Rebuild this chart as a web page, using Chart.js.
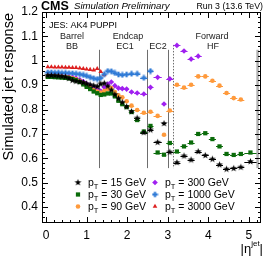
<!DOCTYPE html>
<html>
<head>
<meta charset="utf-8">
<script src="https://cdn.jsdelivr.net/npm/chart.js@4.4.1/dist/chart.umd.min.js"></script>
<style>
  html, body { margin: 0; padding: 0; background: #fff; }
  #chart { display: block; }
</style>
</head>
<body>
<canvas id="chart" width="265" height="257"></canvas>
<script>
// eta bin edges (last bin ends at 5.191)
const etaEdges = [0, 0.087, 0.174, 0.261, 0.348, 0.435, 0.522, 0.609, 0.696, 0.783, 0.879,
  0.957, 1.044, 1.131, 1.218, 1.305, 1.392, 1.479, 1.566, 1.653, 1.740, 1.830, 1.930,
  2.043, 2.172, 2.322, 2.500, 2.650, 2.853, 2.964, 3.139, 3.314, 3.489, 3.664, 3.839,
  4.013, 4.191, 4.363, 4.538, 4.716, 4.889, 5.191];

const xTicks = [0, 1, 2, 3, 4, 5];
const yTicks = [0.4, 0.5, 0.6, 0.7, 0.8, 0.9, 1.0, 1.1, 1.2];

// response per eta bin, null = no point
const resp15 = [0.940, 0.940, 0.939, 0.938, 0.936, 0.934, 0.928, 0.920, 0.916, 0.914, 0.911,
  0.906, 0.902, 0.898, 0.895, 0.905, 0.908, 0.896, 0.880, 0.862, 0.846, 0.830, 0.812,
  0.792, 0.765, 0.706, 0.717, 0.666, 0.743, 0.626, 0.583, 0.610, 0.594, 0.628, 0.612,
  0.597, 0.574, 0.556, 0.559, 0.564, 0.587];
const resp30 = [0.934, 0.934, 0.933, 0.932, 0.931, 0.930, 0.928, 0.925, 0.920, 0.913, 0.903,
  0.893, 0.884, 0.874, 0.867, 0.860, 0.862, 0.866, 0.866, 0.854, 0.836, 0.822, 0.810,
  0.790, 0.757, 0.710, 0.733, 0.624, 0.615, 0.663, 0.628, 0.649, 0.665, 0.700, 0.703,
  0.679, 0.649, 0.618, 0.614, 0.618, 0.624];
const resp90 = [0.936, 0.936, 0.935, 0.935, 0.934, 0.933, 0.931, 0.928, 0.924, 0.917, 0.908,
  0.898, 0.889, 0.880, 0.874, 0.870, 0.876, 0.884, 0.888, 0.872, 0.858, 0.850, 0.834,
  0.816, 0.798, 0.787, 0.791, 0.774, 0.697, 0.796, 0.902, 0.890, 0.902, 0.936, 0.936,
  0.918, 0.898, 0.868, 0.847, 0.841, null];
const resp300 = [0.937, 0.937, 0.936, 0.936, 0.935, 0.934, 0.933, 0.931, 0.928, 0.922, 0.915,
  0.906, 0.898, 0.890, 0.882, 0.876, 0.892, 0.905, 0.913, 0.898, 0.888, 0.886, 0.884,
  0.872, 0.868, 0.864, 0.891, 0.932, 0.823, 0.926, 1.063, 1.040, 1.007, 1.019, null,
  null, null, null, null, null, null];
const resp1000 = [0.952, 0.952, 0.951, 0.951, 0.950, 0.950, 0.949, 0.948, 0.947, 0.945, 0.942,
  0.938, 0.933, 0.928, 0.925, 0.930, 0.945, 0.958, 0.957, 0.950, 0.944, 0.942, 0.944,
  0.947, 0.947, 0.930, 0.958, null, null, null, null, null, null, null, null,
  null, null, null, null, null, null];
const resp3000 = [0.975, 0.975, 0.974, 0.974, 0.974, 0.973, 0.973, 0.972, 0.972, 0.970, 0.968,
  0.966, 0.964, 0.962, 0.968, 0.955, 0.942, null, null, null, null, null, null,
  null, null, null, null, null, null, null, null, null, null, null, null,
  null, null, null, null, null, null];

const ptLabels = ['15', '30', '90', '300', '1000', '3000'];
const regionLines = [1.3, 2.5, 3.0];
const hfStart = 3.139;
const hfEnd = 5.191;

function starImg(color, r) {
  const c = document.createElement('canvas');
  const s = Math.ceil(r * 2) + 1;
  c.width = s; c.height = s;
  const g = c.getContext('2d');
  g.fillStyle = color;
  g.beginPath();
  for (let k = 0; k < 10; k++) {
    const rr = k % 2 ? r * 0.42 : r;
    const a = -Math.PI / 2 + k * Math.PI / 5;
    g.lineTo(s / 2 + rr * Math.cos(a), s / 2 + rr * Math.sin(a));
  }
  g.closePath();
  g.fill();
  return c;
}

function crossImg(color, r) {
  const c = document.createElement('canvas');
  const s = Math.ceil(r * 2) + 1;
  c.width = s; c.height = s;
  const g = c.getContext('2d');
  g.fillStyle = color;
  const w = r * 0.38;
  g.fillRect(s / 2 - r, s / 2 - w, 2 * r, 2 * w);
  g.fillRect(s / 2 - w, s / 2 - r, 2 * w, 2 * r);
  return c;
}

const series = [
  { values: resp15, color: '#000000', style: starImg('#000000', 3.6), radius: 3 },
  { values: resp30, color: '#0a6b0a', style: 'rect', radius: 3 },
  { values: resp90, color: '#ff9a3c', style: 'circle', radius: 2.3 },
  { values: resp300, color: '#a020f0', style: 'rectRot', radius: 2.8 },
  { values: resp1000, color: '#2f7ad6', style: crossImg('#2f7ad6', 2.8), radius: 3 },
  { values: resp3000, color: '#dd2020', style: 'triangle', radius: 2.7 }
];

const datasets = series.map((s, i) => {
  const pts = [];
  s.values.forEach((v, j) => {
    if (v === null) return;
    const lo = etaEdges[j], hi = etaEdges[j + 1];
    pts.push({ x: (lo + hi) / 2, y: v, xlo: lo, xhi: hi });
  });
  return {
    label: 'pT = ' + ptLabels[i] + ' GeV',
    data: pts,
    showLine: false,
    pointStyle: s.style,
    pointRadius: s.radius,
    pointBackgroundColor: s.color,
    pointBorderColor: s.color,
    pointBorderWidth: 0,
    borderColor: s.color,
    backgroundColor: s.color
  };
});

const FONT = '"Liberation Sans", Arial, sans-serif';

function drawMarker(ctx, s, x, y) {
  ctx.save();
  ctx.fillStyle = s.color;
  const r = s.radius;
  if (typeof s.style !== 'string') {
    ctx.drawImage(s.style, x - s.style.width / 2, y - s.style.height / 2);
  } else if (s.style === 'circle') {
    ctx.beginPath(); ctx.arc(x, y, r, 0, Math.PI * 2); ctx.fill();
  } else if (s.style === 'rect') {
    const h = r * Math.SQRT1_2;
    ctx.fillRect(x - h, y - h, 2 * h, 2 * h);
  } else if (s.style === 'rectRot') {
    ctx.beginPath(); ctx.moveTo(x - r, y); ctx.lineTo(x, y - r); ctx.lineTo(x + r, y); ctx.lineTo(x, y + r); ctx.closePath(); ctx.fill();
  } else if (s.style === 'triangle') {
    ctx.beginPath();
    ctx.moveTo(x, y - r);
    ctx.lineTo(x + r * 0.866, y + r * 0.5);
    ctx.lineTo(x - r * 0.866, y + r * 0.5);
    ctx.closePath(); ctx.fill();
  }
  ctx.restore();
}

const rootDecor = {
  id: 'rootDecor',
  beforeDatasetsDraw(chart) {
    const { ctx, scales: { x, y } } = chart;
    ctx.save();
    // detector region boundaries
    ctx.strokeStyle = '#6e6e6e';
    ctx.lineWidth = 1;
    const yTop = y.getPixelForValue(1.045), yBot = y.getPixelForValue(0.56);
    regionLines.forEach(v => {
      const px = Math.round(x.getPixelForValue(v)) + 0.5;
      ctx.beginPath(); ctx.moveTo(px, yTop); ctx.lineTo(px, yBot); ctx.stroke();
    });
    ctx.setLineDash([1.5, 1.5]);
    const pd = Math.round(x.getPixelForValue(hfStart)) + 0.5;
    ctx.beginPath(); ctx.moveTo(pd, y.getPixelForValue(1.065)); ctx.lineTo(pd, yBot); ctx.stroke();
    ctx.setLineDash([]);
    ctx.strokeStyle = '#b0b0b0';
    ctx.lineWidth = 2.5;
    const pe = x.getPixelForValue(hfEnd) + 1;
    ctx.beginPath(); ctx.moveTo(pe, yTop); ctx.lineTo(pe, yBot); ctx.stroke();
    // horizontal error bars
    ctx.lineWidth = 1;
    chart.data.datasets.forEach(ds => {
      ctx.strokeStyle = ds.borderColor;
      ds.data.forEach(p => {
        const py = Math.round(y.getPixelForValue(p.y)) + 0.5;
        ctx.beginPath();
        ctx.moveTo(x.getPixelForValue(p.xlo), py);
        ctx.lineTo(x.getPixelForValue(p.xhi), py);
        ctx.stroke();
      });
    });
    ctx.restore();
  },
  afterDraw(chart) {
    const { ctx, chartArea: a, scales: { x, y } } = chart;
    ctx.save();
    // frame
    ctx.strokeStyle = '#000';
    ctx.lineWidth = 1;
    ctx.strokeRect(a.left + 0.5, a.top + 0.5, a.right - a.left - 1, a.bottom - a.top - 1);
    // ticks on all four sides
    ctx.beginPath();
    for (let v = -0.0; v <= 5.3; v += 0.2) {
      const vv = Math.round(v * 10) / 10;
      const major = Math.abs(vv - Math.round(vv)) < 1e-6;
      const len = major ? 6 : 3;
      const px = Math.round(x.getPixelForValue(vv)) + 0.5;
      if (px <= a.left + 1 || px >= a.right - 1) continue;
      ctx.moveTo(px, a.bottom); ctx.lineTo(px, a.bottom - len);
      ctx.moveTo(px, a.top); ctx.lineTo(px, a.top + len);
    }
    for (let k = 17; k <= 60; k++) {
      const vv = k * 0.02;
      const major = k % 5 === 0;
      const len = major ? 6 : 3;
      const py = Math.round(y.getPixelForValue(vv)) + 0.5;
      if (py <= a.top + 1 || py >= a.bottom - 1) continue;
      ctx.moveTo(a.left, py); ctx.lineTo(a.left + len, py);
      ctx.moveTo(a.right, py); ctx.lineTo(a.right - len, py);
    }
    ctx.stroke();

    ctx.fillStyle = '#000';
    ctx.textBaseline = 'alphabetic';
    ctx.textAlign = 'left';
    ctx.font = 'bold 12.5px ' + FONT;
    ctx.fillText('CMS', 41, 9.5);
    ctx.font = 'italic 9.6px ' + FONT;
    ctx.fillText('Simulation Preliminary', 74, 9);
    ctx.font = '8.8px ' + FONT;
    ctx.textAlign = 'right';
    ctx.fillText('Run 3 (13.6 TeV)', 263, 9);

    ctx.font = '9px ' + FONT;
    ctx.textAlign = 'left';
    ctx.fillText('JES: AK4 PUPPI', 49, 28);
    ctx.textAlign = 'center';
    ctx.fillStyle = '#222';
    [['Barrel', 72, 39], ['BB', 72, 49], ['Endcap', 128, 39], ['EC1', 125, 49],
     ['EC2', 158, 49], ['Forward', 212, 39], ['HF', 213, 49]].forEach(t => ctx.fillText(t[0], t[1], t[2]));

    // legend, two columns
    ctx.fillStyle = '#000';
    ctx.textAlign = 'left';
    const cols = [78, 155], rows = [186, 198, 210];
    series.forEach((s, i) => {
      const cx = cols[Math.floor(i / 3)], cy = rows[i % 3];
      drawMarker(ctx, s, cx, cy - 3.5);
      let tx = cx + 10;
      ctx.font = '10.5px ' + FONT;
      ctx.fillText('p', tx, cy);
      tx += ctx.measureText('p').width;
      ctx.font = '7.5px ' + FONT;
      ctx.fillText('T', tx, cy + 2.5);
      tx += ctx.measureText('T').width;
      ctx.font = '10.5px ' + FONT;
      ctx.fillText(' = ' + ptLabels[i] + ' GeV', tx, cy);
    });

    // y title
    ctx.save();
    ctx.translate(13, 13);
    ctx.rotate(-Math.PI / 2);
    ctx.textAlign = 'right';
    ctx.font = '14.5px ' + FONT;
    ctx.fillText('Simulated jet response', 0, 0);
    ctx.restore();

    // x title |eta^jet|, right aligned
    ctx.textAlign = 'left';
    const big = '13px ' + FONT, sup = '8px ' + FONT;
    ctx.font = big;
    const w1 = ctx.measureText('|\u03b7').width, w3 = ctx.measureText('|').width;
    ctx.font = sup;
    const w2 = ctx.measureText('jet').width;
    let tx = 263 - (w1 + w2 + w3);
    ctx.font = big;
    ctx.fillText('|\u03b7', tx, 253);
    ctx.font = sup;
    ctx.fillText('jet', tx + w1, 246);
    ctx.font = big;
    ctx.fillText('|', tx + w1 + w2, 253);
    ctx.restore();
  }
};

new Chart(document.getElementById('chart'), {
  type: 'scatter',
  data: { datasets },
  options: {
    responsive: false,
    animation: false,
    layout: { padding: { top: 12, right: 4, left: 0, bottom: 0 } },
    plugins: { legend: { display: false }, tooltip: { enabled: false } },
    scales: {
      x: {
        type: 'linear',
        min: -0.1,
        max: 5.3,
        grid: { display: false, drawTicks: false },
        border: { display: false },
        afterFit: s => { s.height = 34; },
        afterBuildTicks: s => { s.ticks = xTicks.map(v => ({ value: v })); },
        ticks: {
          autoSkip: false, maxRotation: 0, padding: 5, color: '#000',
          font: { family: FONT, size: 12 },
          callback: v => String(v)
        }
      },
      y: {
        type: 'linear',
        min: 0.335,
        max: 1.2,
        grid: { display: false, drawTicks: false },
        border: { display: false },
        afterFit: s => { s.width = 42; },
        afterBuildTicks: s => { s.ticks = yTicks.map(v => ({ value: v })); },
        ticks: {
          autoSkip: false, padding: 4, color: '#000',
          font: { family: FONT, size: 12 },
          callback: v => String(Number(v.toFixed(2)))
        }
      }
    }
  },
  plugins: [rootDecor]
});
</script>
</body>
</html>
